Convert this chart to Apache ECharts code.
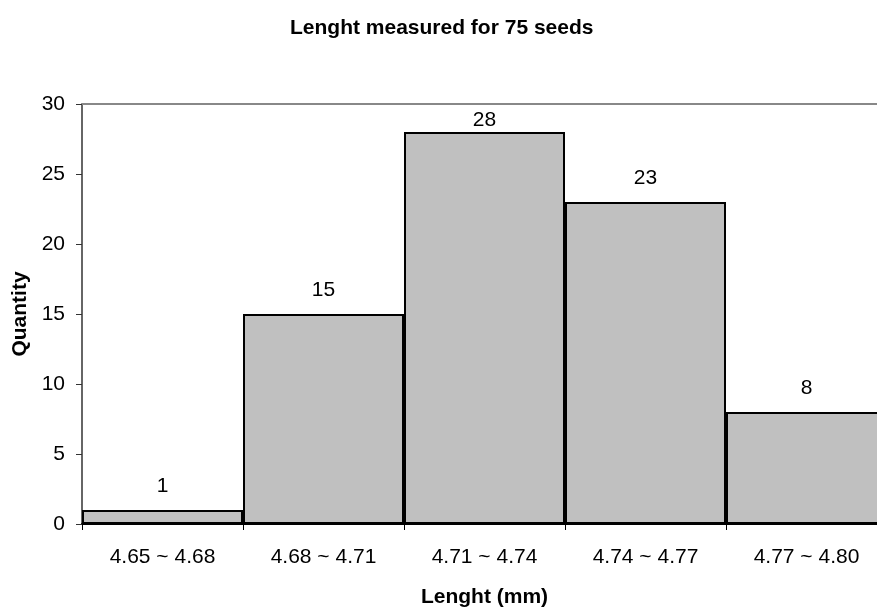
<!DOCTYPE html>
<html>
<head>
<meta charset="utf-8">
<script src="https://cdn.jsdelivr.net/npm/echarts@6/dist/echarts.min.js"></script>
<style>
html,body{margin:0;padding:0;background:#fff;overflow:hidden;width:877px;height:608px;}
#chart{width:887px;height:608px;}
</style>
</head>
<body>
<div id="chart"></div>
<script>
var titleText = 'Lenght measured for 75 seeds';
var categories = ['4.65 ~ 4.68', '4.68 ~ 4.71', '4.71 ~ 4.74', '4.74 ~ 4.77', '4.77 ~ 4.80'];
var quantities = [1, 15, 28, 23, 8];
var xName = 'Lenght (mm)';
var yName = 'Quantity';

var chart = echarts.init(document.getElementById('chart'));
var font = 'Liberation Sans, Arial, sans-serif';
var seriesData = quantities.map(function (v) {
  if (v === 28) return { value: v, label: { distance: 1 } };
  return v;
});
chart.setOption({
  animation: false,
  backgroundColor: '#fff',
  title: {
    text: titleText,
    left: 285,
    top: 13,
    textStyle: { fontFamily: font, fontSize: 21, fontWeight: 'bold', color: '#000' }
  },
  grid: { left: 82, right: 0, top: 104, bottom: 84, containLabel: false, outerBoundsMode: 'none' },
  xAxis: [{
    type: 'category',
    data: categories,
    position: 'bottom',
    name: xName,
    nameLocation: 'middle',
    nameGap: 63,
    nameTextStyle: { fontFamily: font, fontSize: 21, fontWeight: 'bold', color: '#000' },
    axisLine: { lineStyle: { color: '#000', width: 2 } },
    axisTick: { show: true, alignWithLabel: false, length: 6, lineStyle: { color: '#000', width: 1 } },
    axisLabel: { fontFamily: font, fontSize: 21, color: '#000', margin: 23 },
    splitLine: { show: false }
  }, {
    type: 'category',
    data: categories,
    position: 'top',
    axisLine: { lineStyle: { color: '#888', width: 2 } },
    axisTick: { show: false },
    axisLabel: { show: false },
    splitLine: { show: false }
  }],
  yAxis: {
    type: 'value',
    min: 0,
    max: 30,
    interval: 5,
    name: yName,
    nameLocation: 'middle',
    nameGap: 50,
    nameTextStyle: { fontFamily: font, fontSize: 21, fontWeight: 'bold', color: '#000' },
    axisLine: { show: true, lineStyle: { color: '#333', width: 1.5 } },
    axisTick: { show: true, length: 6, lineStyle: { color: '#333', width: 1 } },
    axisLabel: { fontFamily: font, fontSize: 21, color: '#000', margin: 17 },
    splitLine: { show: false }
  },
  series: [{
    type: 'bar',
    data: seriesData,
    barCategoryGap: '0%',
    itemStyle: { color: '#c0c0c0', borderColor: '#000', borderWidth: 2 },
    label: {
      show: true,
      position: 'top',
      distance: 13,
      fontFamily: font,
      fontSize: 21,
      color: '#000'
    }
  }]
});
</script>
</body>
</html>
